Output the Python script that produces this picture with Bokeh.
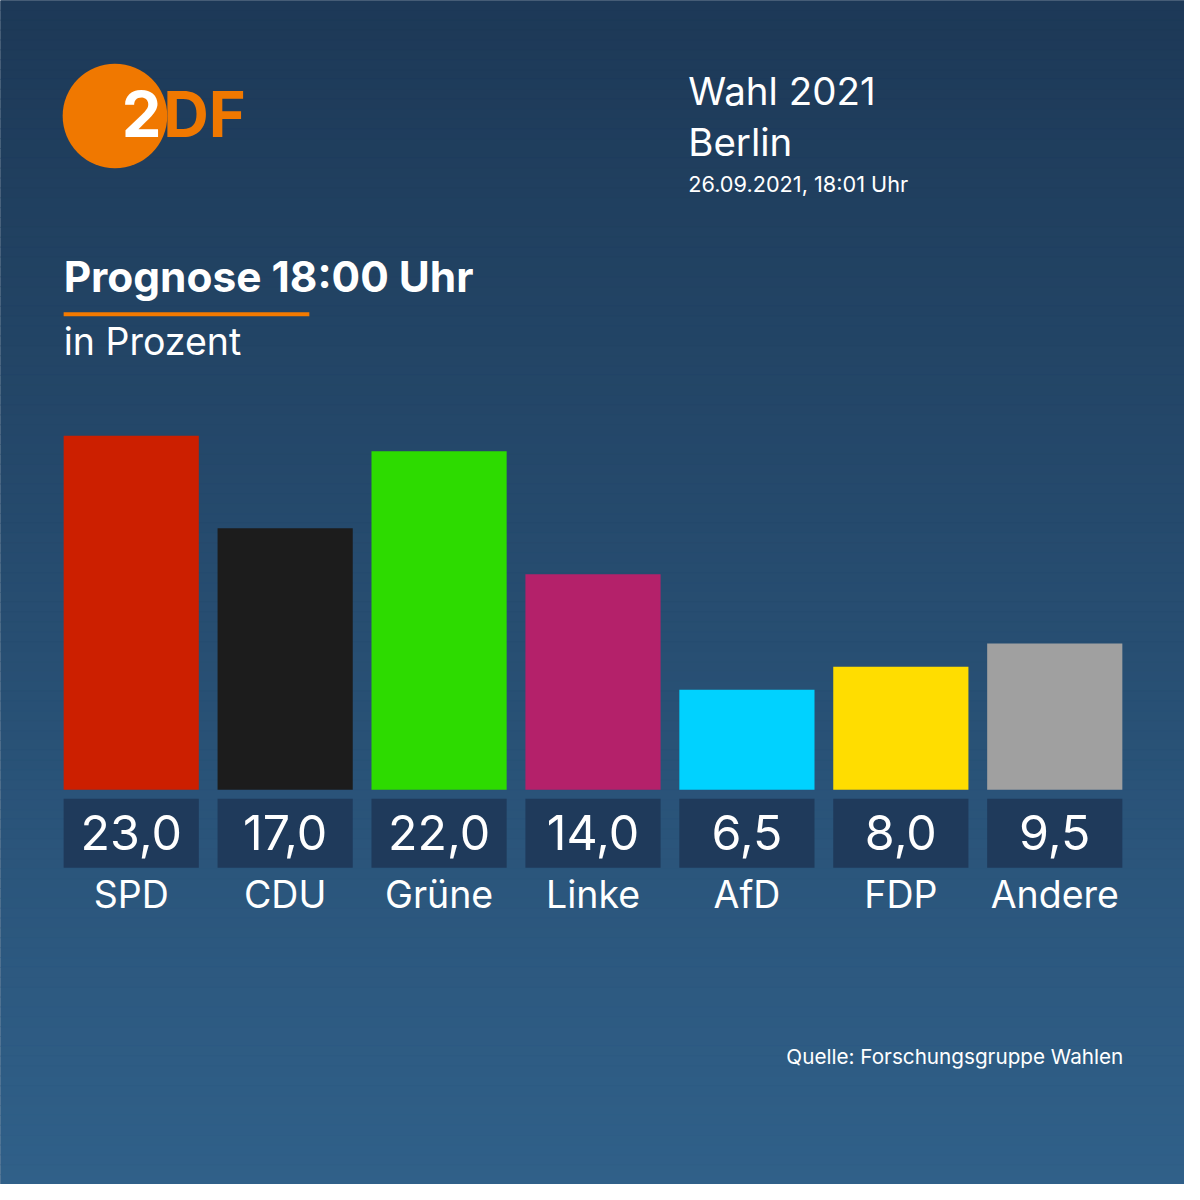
import numpy as np
from bokeh.plotting import figure
from bokeh.models import Range1d, ColumnDataSource
from bokeh.embed import file_html
from bokeh.resources import INLINE
from bokeh.core.properties import value

# ---- data ----
parties = ["SPD", "CDU", "Grüne", "Linke", "AfD", "FDP", "Andere"]
values = [23.0, 17.0, 22.0, 14.0, 6.5, 8.0, 9.5]
colors = ["#cc1f00", "#1c1c1c", "#2ddb00", "#b4216a", "#00d2ff", "#ffdd00", "#a0a0a0"]

title = "Prognose 18:00 Uhr"
subtitle = "in Prozent"
header_lines = ["Wahl 2021", "Berlin"]
date_text = "26.09.2021, 18:01 Uhr"
source_text = "Quelle: Forschungsgruppe Wahlen"

# ---- layout helpers (reference is 1200 px, page frame is 1184 px) ----
W = 1184
S = W / 1200.0
FONT = "Inter"
K = 0.39  # empirical baseline correction (fraction of font size)


def fs(px):
    return f"{px * S:.1f}px"


def by(baseline, size):
    return baseline - K * size


p = figure(width=W, height=W,
           x_range=Range1d(0, 1200), y_range=Range1d(1200, 0),
           x_axis_type=None, y_axis_type=None,
           output_backend="svg", toolbar_location=None,
           min_border=0, min_border_left=0, min_border_right=0,
           min_border_top=0, min_border_bottom=0)
p.grid.visible = False
p.outline_line_color = None
p.background_fill_color = "#1e3a5a"
p.border_fill_color = "#1e3a5a"

# bar scales: one category per 156 ref px, 15.6 ref px per percent, baseline at y=800
p.extra_x_ranges = {"party": Range1d(-132.5 / 156, -132.5 / 156 + 1200 / 156)}
p.extra_y_ranges = {"pct": Range1d(-400 / 15.6, 800 / 15.6)}

# ---- background gradient ----
top_c = np.array([0x1d, 0x39, 0x57], dtype=float)
bot_c = np.array([0x30, 0x60, 0x89], dtype=float)
n = 120
edges = np.linspace(0, 1200, n + 1)
grad_cols = []
for i in range(n):
    t = (i + 0.5) / n
    c = top_c + (bot_c - top_c) * t
    grad_cols.append("#%02x%02x%02x" % tuple(int(round(v)) for v in c))
p.quad(left=0, right=1200, top=edges[:-1], bottom=edges[1:],
       fill_color=grad_cols, line_color=grad_cols, line_width=1)

# ---- ZDF logo ----
p.circle(x=[116], y=[117], radius=53, fill_color="#f07800", line_color=None)
LOGO = 64
p.text(x=[123], y=[by(140, LOGO)], text=["2"], text_color="white",
       text_font=value(FONT), text_font_style="bold", text_font_size=fs(LOGO),
       text_baseline="alphabetic", text_align="left")
p.text(x=[165], y=[by(140, LOGO)], text=["DF"], text_color="#f07800",
       text_font=value(FONT), text_font_style="bold", text_font_size=fs(LOGO),
       text_baseline="alphabetic", text_align="left")

# ---- header (top right) ----
HS = 39
p.text(x=[697, 697], y=[by(107, HS), by(159, HS)], text=header_lines, text_color="white",
       text_font=value(FONT), text_font_size=fs(HS),
       text_baseline="alphabetic", text_align="left")
DS = 22
p.text(x=[697], y=[by(195, DS)], text=[date_text], text_color="white",
       text_font=value(FONT), text_font_size=fs(DS),
       text_baseline="alphabetic", text_align="left")

# ---- title ----
TS = 43
p.text(x=[64], y=[by(297, TS)], text=[title], text_color="white",
       text_font=value(FONT), text_font_style="bold", text_font_size=fs(TS),
       text_baseline="alphabetic", text_align="left")
p.quad(left=[64], right=[313], top=[316], bottom=[320],
       fill_color="#f47a00", line_color=None)
SS = 38
p.text(x=[64], y=[by(360, SS)], text=[subtitle], text_color="white",
       text_font=value(FONT), text_font_size=fs(SS),
       text_baseline="alphabetic", text_align="left")

# ---- bars ----
idx = list(range(len(parties)))
labels = [f"{v:.1f}".replace(".", ",") for v in values]
src = ColumnDataSource(dict(x=idx, value=values, color=colors,
                            party=parties, label=labels))
bar_w = 137 / 156
p.vbar(x="x", top="value", bottom=0, width=bar_w, source=src,
       fill_color="color", line_color=None,
       x_range_name="party", y_range_name="pct")

# value boxes
VS = 49
PS = 38
p.vbar(x="x", top=809, bottom=879, width=bar_w, source=src,
       fill_color="#1f3a5b", line_color=None, x_range_name="party")
p.text(x="x", y=by(862, VS), text="label", source=src, text_color="white",
       text_font=value(FONT), text_font_size=fs(VS),
       text_baseline="alphabetic", text_align="center", x_range_name="party")
p.text(x="x", y=by(921, PS), text="party", source=src, text_color="white",
       text_font=value(FONT), text_font_size=fs(PS),
       text_baseline="alphabetic", text_align="center", x_range_name="party")

# ---- source ----
QS = 21
p.text(x=[1138], y=[by(1078, QS)], text=[source_text], text_color="white",
       text_font=value(FONT), text_font_size=fs(QS),
       text_baseline="alphabetic", text_align="right")

open("out.html", "w").write(file_html(p, INLINE))
